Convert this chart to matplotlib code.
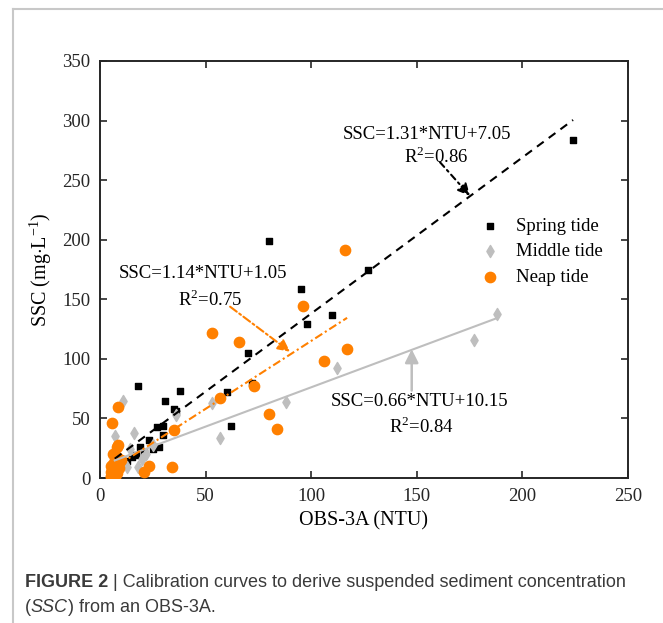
import matplotlib
matplotlib.use("Agg")
import matplotlib.pyplot as plt
from matplotlib.lines import Line2D

plt.rcParams['font.family'] = 'Liberation Serif'
plt.rcParams['mathtext.fontset'] = 'custom'
plt.rcParams['mathtext.rm'] = 'Liberation Serif'

# data
spring_x = [224, 80, 95, 127, 110, 98, 70, 72, 60, 62, 38, 18, 31, 35, 36, 30, 27, 30, 23, 19, 25, 17, 15, 13, 21, 12, 28]
spring_y = [284, 199, 159, 175, 137, 129, 105, 80, 72, 44, 73, 77, 65, 58, 56, 44, 43, 36, 32, 26, 24, 19, 18, 14, 22, 12, 26]

middle_x = [188, 177, 112, 88, 57, 53, 36, 11, 7, 16, 14, 20, 13, 18, 10, 22, 25, 6]
middle_y = [138, 116, 92, 64, 34, 63, 53, 65, 35, 38, 24, 16, 9.5, 9.5, 12, 20, 28, 8]

neap_x = [116, 96, 117, 106, 53, 66, 73, 57, 80, 84, 35, 34, 8.5, 5.5, 8.5, 8, 23, 21,
          5, 5, 6, 6, 7, 8, 5, 6, 7, 8, 9, 7, 6, 8, 10, 5, 9, 6]
neap_y = [191, 144, 108, 98, 122, 114, 77, 67, 54, 41, 40, 9, 60, 46, 28, 26, 10, 5,
          2, 5, 8, 12, 15, 18, 10, 3, 6, 10, 13, 1, 20, 4, 15, 0.5, 8, 0]

# fitted lines: slope, intercept, x range
spring_fit = (1.31, 7.05, 7, 224)
middle_fit = (0.66, 10.15, 7, 188)
neap_fit = (1.14, 1.05, 9, 117)

orange = '#FF8000'
gray = '#BEBEBE'

fig = plt.figure(figsize=(6.63, 6.23), dpi=100)
ax = fig.add_axes([0.1508, 0.2327, 0.7964, 0.6694])

ax.scatter(spring_x, spring_y, marker='s', s=22, color='black', label='Spring tide', zorder=3)
ax.scatter(middle_x, middle_y, marker='d', s=38, color=gray, label='Middle tide', zorder=3)
ax.scatter(neap_x, neap_y, marker='o', s=55, color=orange, label='Neap tide', zorder=3)

def fit_line(fit):
    k, b, x0, x1 = fit
    return [x0, x1], [k * x0 + b, k * x1 + b]

xs, ys = fit_line(spring_fit)
ax.plot(xs, ys, color='black', lw=1.5, ls=(0, (4, 3)), zorder=4)
xs, ys = fit_line(middle_fit)
ax.plot(xs, ys, color=gray, lw=1.5, zorder=4)
xs, ys = fit_line(neap_fit)
ax.plot(xs, ys, color=orange, lw=1.5, ls=(0, (4, 1.5, 1, 1.5)), zorder=4)

fs = 13.5
ax.text(154.6, 288.6, 'SSC=1.31*NTU+7.05', ha='center', va='center', fontsize=fs)
ax.text(159, 269.8, 'R$^2$=0.86', ha='center', va='center', fontsize=fs)
ax.annotate('', xy=(175.2, 236.8), xytext=(161, 265),
            arrowprops=dict(arrowstyle='-|>', color='black', lw=1.5, ls=(0, (3, 2, 1, 2)),
                            mutation_scale=18, shrinkA=0, shrinkB=0))

ax.text(49, 172, 'SSC=1.14*NTU+1.05', ha='center', va='center', fontsize=fs)
ax.text(52, 149.5, 'R$^2$=0.75', ha='center', va='center', fontsize=fs)
ax.annotate('', xy=(90, 106), xytext=(61.6, 143.8),
            arrowprops=dict(arrowstyle='-|>', color=orange, lw=1.5, ls=(0, (4, 1.5, 1, 1.5)),
                            mutation_scale=18, shrinkA=0, shrinkB=0))

ax.text(151.3, 64.1, 'SSC=0.66*NTU+10.15', ha='center', va='center', fontsize=fs)
ax.text(152.3, 43.1, 'R$^2$=0.84', ha='center', va='center', fontsize=fs)
ax.annotate('', xy=(147.6, 108.1), xytext=(147.6, 73.4),
            arrowprops=dict(arrowstyle='-|>', color=gray, lw=1.8,
                            mutation_scale=20, shrinkA=0, shrinkB=0))

ax.set_xlim(0, 250)
ax.set_ylim(0, 350)
ax.set_xticks(range(0, 251, 50))
ax.set_yticks(range(0, 351, 50))
ax.tick_params(direction='in', top=True, right=True, length=5, width=1.2,
               labelsize=13.5, pad=7, colors='#262626')
for sp in ax.spines.values():
    sp.set_linewidth(1.4)
    sp.set_color('#262626')
ax.set_xlabel('OBS-3A (NTU)', fontsize=14.5, labelpad=5)
ax.set_ylabel('SSC (mg$\\cdot$L$^{-1}$)', fontsize=14.5, labelpad=6)

ax.legend(loc='upper left', bbox_to_anchor=(0.703, 0.647), frameon=False, fontsize=13.5,
          handlelength=1.0, handletextpad=0.9, labelspacing=0.45, borderpad=0)

# caption and panel border
cap_font = 'Liberation Sans'
cap_color = '#3a3a3a'
cap_size = 13
t1 = fig.text(0.037, 0.058, 'FIGURE 2', fontsize=cap_size, fontweight='bold',
              family=cap_font, color=cap_color, va='baseline')
ax.annotate(' | Calibration curves to derive suspended sediment concentration',
            xy=(1, 0), xycoords=t1, va='bottom', fontsize=cap_size, family=cap_font,
            color=cap_color, annotation_clip=False)
t2 = fig.text(0.037, 0.018, '(', fontsize=cap_size, family=cap_font, color=cap_color,
              va='baseline')
t3 = ax.annotate('SSC', xy=(1, 0), xycoords=t2, va='bottom', fontsize=cap_size,
                 family=cap_font, style='italic', color=cap_color, annotation_clip=False)
ax.annotate(') from an OBS-3A.', xy=(1, 0), xycoords=t3, va='bottom', fontsize=cap_size,
            family=cap_font, color=cap_color, annotation_clip=False)

border = '#c8c8c8'
fig.add_artist(Line2D([0.019, 0.019], [0.0, 0.986], color=border, lw=1.5))
fig.add_artist(Line2D([0.019, 1.0], [0.986, 0.986], color=border, lw=1.5))

fig.savefig('out.png', dpi=100)
